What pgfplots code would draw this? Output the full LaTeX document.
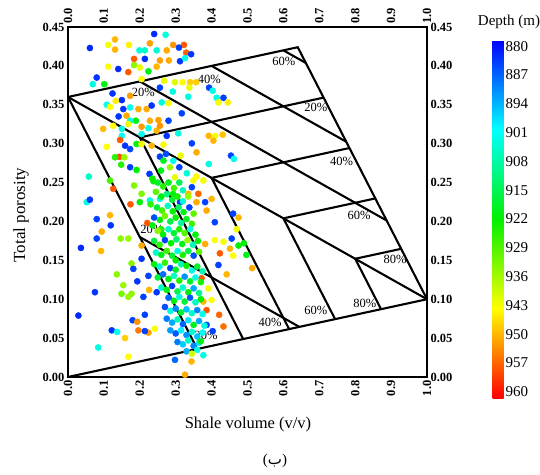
\documentclass[border=0pt]{standalone}
\usepackage{fontspec}
\setmainfont{Liberation Serif}
\newfontfamily\arabicfont[Script=Arabic]{DejaVu Sans}
\TeXXeTstate=1
\usepackage{pgfplots}
\usepackage{pgfplotstable}
\pgfplotsset{compat=1.18}

% Thomas-Stieber style samples: shale volume, total porosity, depth (m)
\pgfplotstableread{
x y d
0.061 0.423 882
0.131 0.434 950
0.112 0.427 943
0.131 0.421 950
0.170 0.427 945
0.240 0.441 882
0.272 0.440 903
0.228 0.429 952
0.199 0.420 903
0.214 0.420 905
0.247 0.420 904
0.275 0.420 951
0.293 0.427 953
0.323 0.427 958
0.309 0.4235 884
0.329 0.417 957
0.343 0.415 883
0.184 0.409 958
0.214 0.409 882
0.256 0.407 952
0.281 0.407 951
0.312 0.406 883
0.326 0.410 902
0.112 0.399 944
0.140 0.396 882
0.168 0.392 958
0.184 0.401 934
0.200 0.398 942
0.224 0.393 920
0.247 0.399 950
0.205 0.383 943
0.080 0.385 883
0.069 0.3765 903
0.101 0.3765 920
0.256 0.372 884
0.268 0.381 942
0.292 0.367 903
0.298 0.379 941
0.319 0.379 944
0.340 0.379 948
0.357 0.379 948
0.338 0.372 942
0.393 0.372 884
0.403 0.368 902
0.433 0.359 884
0.414 0.359 903
0.419 0.353 943
0.445 0.353 945
0.124 0.3645 883
0.150 0.356 882
0.173 0.3615 952
0.133 0.355 945
0.108 0.350 902
0.117 0.3474 944
0.173 0.3466 902
0.196 0.3445 951
0.219 0.3445 951
0.233 0.349 883
0.154 0.3445 883
0.163 0.336 951
0.141 0.335 883
0.189 0.3295 921
0.173 0.3295 903
0.261 0.353 903
0.280 0.352 943
0.317 0.339 884
0.335 0.3603 903
0.098 0.319 950
0.126 0.323 944
0.150 0.319 903
0.150 0.310 901
0.168 0.3252 942
0.205 0.3218 952
0.228 0.3295 951
0.252 0.3303 952
0.280 0.3295 884
0.224 0.320 902
0.247 0.3167 950
0.205 0.3124 902
0.275 0.310 883
0.307 0.3133 903
0.256 0.323 953
0.108 0.296 944
0.145 0.3047 958
0.159 0.2974 883
0.191 0.2996 921
0.173 0.293 884
0.205 0.2996 943
0.233 0.2974 950
0.266 0.2987 943
0.143 0.283 959
0.131 0.2825 925
0.157 0.2825 935
0.148 0.273 925
0.173 0.2697 884
0.191 0.2662 922
0.227 0.2611 883
0.256 0.2833 884
0.266 0.2782 920
0.273 0.2868 885
0.293 0.278 902
0.310 0.2697 884
0.314 0.2846 942
0.345 0.3004 884
0.358 0.2889 951
0.392 0.310 950
0.410 0.310 943
0.431 0.3115 949
0.405 0.3039 950
0.392 0.2739 903
0.454 0.2846 884
0.462 0.2804 902
0.058 0.2577 905
0.126 0.242 958
0.117 0.2526 928
0.184 0.2462 933
0.205 0.2355 933
0.238 0.2517 923
0.259 0.2654 920
0.284 0.2697 935
0.298 0.2568 942
0.331 0.2620 904
0.349 0.2526 943
0.358 0.2577 944
0.377 0.2526 943
0.345 0.244 884
0.363 0.2355 957
0.335 0.2355 950
0.293 0.2355 921
0.312 0.2248 883
0.256 0.229 903
0.228 0.227 903
0.358 0.2248 951
0.382 0.2248 884
0.052 0.2248 903
0.174 0.222 958
0.200 0.2248 921
0.061 0.228 883
0.221 0.198 958
0.080 0.203 884
0.117 0.208 950
0.119 0.195 883
0.094 0.187 951
0.080 0.178 884
0.147 0.178 934
0.168 0.178 935
0.092 0.162 950
0.036 0.166 882
0.205 0.169 951
0.177 0.146 934
0.182 0.139 884
0.205 0.152 883
0.136 0.132 934
0.224 0.130 884
0.193 0.123 883
0.154 0.118 935
0.177 0.107 934
0.149 0.107 932
0.168 0.103 935
0.075 0.109 883
0.210 0.103 884
0.226 0.112 950
0.247 0.109 883
0.029 0.079 882
0.180 0.073 884
0.193 0.071 953
0.214 0.080 884
0.196 0.060 955
0.224 0.057 952
0.214 0.059 884
0.122 0.060 883
0.137 0.058 902
0.159 0.050 948
0.242 0.062 944
0.084 0.038 903
0.168 0.026 944
0.298 0.022 887
0.344 0.020 950
0.326 0.003 951
0.377 0.028 903
0.409 0.199 884
0.382 0.171 951
0.409 0.176 944
0.433 0.174 943
0.451 0.165 950
0.423 0.159 958
0.460 0.156 944
0.456 0.178 884
0.475 0.169 922
0.419 0.144 884
0.442 0.132 950
0.372 0.127 958
0.391 0.114 943
0.386 0.086 958
0.421 0.080 957
0.433 0.065 956
0.386 0.067 884
0.403 0.059 884
0.377 0.097 950
0.400 0.099 944
0.386 0.214 951
0.400 0.229 950
0.470 0.190 943
0.490 0.172 922
0.497 0.157 920
0.513 0.140 951
0.460 0.210 884
0.475 0.205 950
0.235 0.255 922
0.250 0.250 918
0.265 0.245 925
0.280 0.250 920
0.295 0.243 928
0.310 0.250 915
0.320 0.240 906
0.245 0.238 930
0.260 0.232 921
0.275 0.235 912
0.290 0.228 918
0.305 0.232 924
0.320 0.226 904
0.335 0.232 935
0.230 0.222 926
0.248 0.218 917
0.262 0.214 928
0.278 0.220 906
0.292 0.213 922
0.308 0.218 914
0.322 0.212 920
0.338 0.218 884
0.350 0.210 930
0.240 0.205 885
0.256 0.202 921
0.270 0.207 932
0.285 0.200 916
0.300 0.205 923
0.315 0.198 908
0.330 0.203 919
0.345 0.197 927
0.260 0.190 925
0.235 0.195 920
0.250 0.188 934
0.265 0.183 922
0.280 0.190 905
0.295 0.185 918
0.310 0.190 924
0.325 0.185 929
0.340 0.190 903
0.355 0.183 921
0.240 0.175 917
0.255 0.170 926
0.270 0.176 884
0.287 0.172 922
0.302 0.177 913
0.318 0.171 920
0.333 0.176 935
0.348 0.170 906
0.362 0.175 922
0.245 0.160 905
0.260 0.157 920
0.275 0.162 928
0.290 0.156 918
0.305 0.162 903
0.320 0.157 924
0.335 0.162 916
0.350 0.156 885
0.365 0.161 930
0.300 0.150 922
0.315 0.145 907
0.240 0.145 922
0.255 0.142 904
0.270 0.147 926
0.285 0.140 884
0.300 0.138 919
0.330 0.143 923
0.345 0.137 903
0.360 0.142 918
0.375 0.136 907
0.250 0.128 917
0.265 0.132 888
0.280 0.126 921
0.295 0.130 905
0.310 0.124 925
0.325 0.129 891
0.340 0.123 919
0.355 0.128 902
0.370 0.122 924
0.260 0.115 905
0.275 0.112 920
0.290 0.117 884
0.305 0.110 916
0.320 0.115 904
0.335 0.109 922
0.350 0.114 893
0.365 0.108 910
0.280 0.102 887
0.295 0.098 921
0.310 0.103 903
0.325 0.097 918
0.340 0.102 886
0.355 0.096 905
0.370 0.100 922
0.270 0.090 885
0.285 0.085 903
0.300 0.088 890
0.315 0.083 918
0.330 0.087 895
0.345 0.082 905
0.360 0.086 890
0.375 0.081 902
0.275 0.075 889
0.290 0.070 893
0.305 0.074 906
0.320 0.068 887
0.335 0.073 898
0.350 0.067 920
0.365 0.072 893
0.380 0.066 903
0.285 0.060 892
0.300 0.056 886
0.315 0.060 899
0.330 0.054 891
0.345 0.058 904
0.360 0.052 895
0.375 0.057 901
0.305 0.045 889
0.320 0.042 896
0.335 0.047 905
0.350 0.040 890
0.365 0.044 898
0.330 0.033 893
0.345 0.030 940
0.360 0.035 903
0.370 0.046 920
}\samples

\pgfplotsset{
  tsframe/.style={
    at={(0pt,0pt)}, anchor=south west,
    scale only axis, width=359pt, height=350pt,
    xmin=0, xmax=1, ymin=0, ymax=0.45,
    xtick={0,0.1,0.2,0.3,0.4,0.5,0.6,0.7,0.8,0.9,1.0},
    ytick={0,0.05,0.1,0.15,0.2,0.25,0.3,0.35,0.4,0.45},
    major tick length=0pt,
    scaled ticks=false,
    tick label style={font=\fontsize{12.5}{13}\selectfont\bfseries,
      /pgf/number format/assume math mode=true},
    xticklabel style={rotate=90, /pgf/number format/fixed,
      /pgf/number format/fixed zerofill, /pgf/number format/precision=1},
    yticklabel style={/pgf/number format/fixed,
      /pgf/number format/fixed zerofill, /pgf/number format/precision=2},
  },
  tsline/.style={black, line width=2.1pt, forget plot},
}
\tikzset{pct/.style={font=\fontsize{12.5}{13}\selectfont, inner sep=0pt}}

\begin{document}
\begin{tikzpicture}
\begin{axis}[
  tsframe,
  xticklabel style={anchor=east},
  axis line style={line width=1.6pt},
  clip=false,
  colormap={depthjet}{rgb255=(0,0,255) rgb255=(0,255,255) rgb255=(0,240,0)
    rgb255=(255,255,0) rgb255=(255,0,0)},
  point meta min=878.5, point meta max=965.5,
  colorbar,
  colorbar style={
    at={(parent axis.south east)}, anchor=south west,
    xshift=57pt, yshift=-21pt,
    scale only axis, width=11pt, height=358pt,
    y dir=reverse,
    ytick={880,887,894,901,908,915,922,929,936,943,950,957,964},
    yticklabels={880,887,894,901,908,915,922,929,936,943,950,957,960},
    yticklabel style={font=\fontsize{15}{15}\selectfont, inner sep=2pt,
      /pgf/number format/assume math mode=true},
    major tick length=0pt,
    axis line style={draw=none},
  },
]
% depth-coloured samples
\addplot[scatter, only marks, mark=*, mark size=3.1pt,
  scatter src=explicit,
  scatter/use mapped color={draw=mapped color, fill=mapped color}]
  table[x=x, y=y, meta=d] {\samples};

% template: baseline, outer boundary, laminar and dispersed lines
\addplot[tsline] coordinates {(0,0) (1,0.1)};
\addplot[tsline] coordinates {(0,0.36) (0.64,0.424) (1,0.1)};
\addplot[tsline] coordinates {(0,0.36) (1,0.1)};
\addplot[tsline] coordinates {(0,0.36) (0.36,0.036)};
% constant lamination (20, 40, 60, 80 %)
\addplot[tsline] coordinates {(0.712,0.3592) (0.2,0.308) (0.488,0.0488)};
\addplot[tsline] coordinates {(0.784,0.2944) (0.4,0.256) (0.616,0.0616)};
\addplot[tsline] coordinates {(0.856,0.2296) (0.6,0.204) (0.744,0.0744)};
\addplot[tsline] coordinates {(0.928,0.1648) (0.8,0.152) (0.872,0.0872)};
% constant structural / dispersed shale
\addplot[tsline] coordinates {(0.2,0.38) (0.8875,0.20125)};
\addplot[tsline] coordinates {(0.4,0.40) (0.775,0.3025)};
\addplot[tsline] coordinates {(0.6,0.42) (0.6625,0.40375)};
\addplot[tsline] coordinates {(0.2,0.18) (0.6444,0.06444)};

\node[pct] at (axis cs:0.210,0.3654) {20\%};
\node[pct] at (axis cs:0.394,0.3827) {40\%};
\node[pct] at (axis cs:0.601,0.4051) {60\%};
\node[pct] at (axis cs:0.690,0.3462) {20\%};
\node[pct] at (axis cs:0.762,0.2769) {40\%};
\node[pct] at (axis cs:0.811,0.2083) {60\%};
\node[pct] at (axis cs:0.911,0.1513) {80\%};
\node[pct] at (axis cs:0.8265,0.0942) {80\%};
\node[pct] at (axis cs:0.690,0.0859) {60\%};
\node[pct] at (axis cs:0.563,0.0705) {40\%};
\node[pct] at (axis cs:0.3844,0.0532) {20\%};
\node[pct] at (axis cs:0.2332,0.1891) {20\%};
\end{axis}

% mirrored tick labels on top and right
\begin{axis}[
  tsframe,
  xticklabel pos=top, yticklabel pos=right,
  xticklabel style={anchor=west},
  yticklabel style={anchor=west},
  axis line style={draw=none},
]
\end{axis}

\node[rotate=90, font=\fontsize{17}{18}\selectfont] at (-47pt,162pt) {Total porosity};
\node[font=\fontsize{16.5}{18}\selectfont] at (180pt,-48pt) {Shale volume (v/v)};
\node[font=\fontsize{15}{16}\selectfont] at (441pt,355pt) {Depth (m)};
\node[font=\fontsize{15}{16}\selectfont, inner sep=0pt] at (207pt,-84pt) {({\arabicfont\beginR ب\endR})};

\pgfresetboundingbox
\path (-68pt,-97pt) rectangle (472pt,377pt);
\end{tikzpicture}
\end{document}
